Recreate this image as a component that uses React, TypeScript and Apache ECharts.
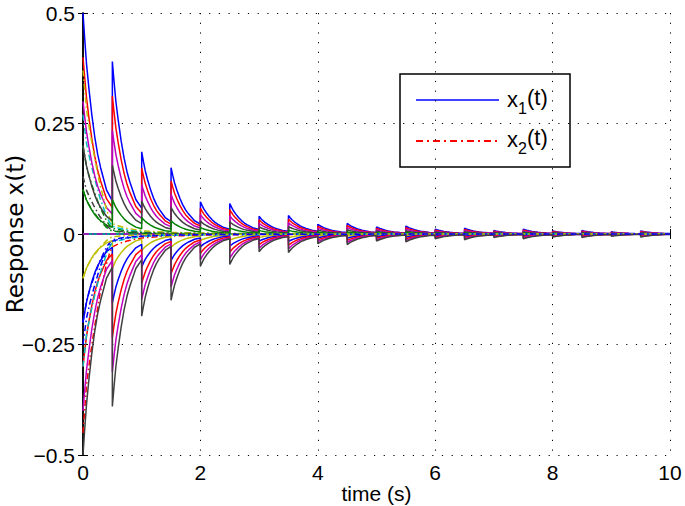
import React, { useEffect, useRef } from "react";
import * as echarts from "echarts";

// impulse instants (s)
const impulseTimes = [0, 0.5, 1, 1.5, 2, 2.5, 3, 3.5, 4, 4.5, 5, 5.5, 6, 6.5, 7, 7.5, 8, 8.5, 9, 9.5];
// x1 initial values and colours
const x1Initial = [0.5, 0.4, 0.3, 0.2, 0.1, 0, -0.1, -0.2, -0.3, -0.4, -0.5];
const x1Colors = ["#0000ff", "#ff0000", "#bf00bf", "#404040", "#008000", "#00bfbf", "#bfbf00", "#0000ff", "#ff0000", "#bf00bf", "#404040"];
// peak value after each impulse, relative to initial value (read from x1 = 0.5 curve)
const x1PeakGain = [1, 0.78, 0.372, 0.3, 0.146, 0.138, 0.08, 0.084, 0.044, 0.048, 0.032, 0.036, 0.022, 0.026, 0.016, 0.022, 0.014, 0.016, 0.01, 0.014];
// shape of the decay inside one impulse interval (fraction of the peak)
const decayOffsets = [0, 0.03, 0.06, 0.1, 0.15, 0.2, 0.25, 0.3, 0.4, 0.5];
const decayShape = [1, 0.88, 0.77, 0.66, 0.54, 0.44, 0.36, 0.3, 0.2, 0.15];

// x2 initial values and colours
const x2Initial = [0.2, 0.27, 0.37, -0.2, -0.45, 0, 0.13, 0.1, -0.3, -0.1, -0.25];
const x2Colors = ["#008000", "#00bfbf", "#bfbf00", "#0000ff", "#ff0000", "#bf00bf", "#404040", "#008000", "#00bfbf", "#bfbf00", "#0000ff"];
// normalised x2 response
const x2ProfileT = [0, 0.06, 0.12, 0.18, 0.24, 0.29, 0.35, 0.4, 0.45, 0.5, 0.6, 0.75, 1, 1.25, 1.5, 2, 2.5, 3, 4, 5, 6, 8, 10];
const x2ProfileV = [1, 0.76, 0.62, 0.5, 0.39, 0.3, 0.22, 0.15, 0.1, 0.065, 0.05, 0.035, 0.02, 0.014, 0.01, 0.006, 0.004, 0.003, 0.002, 0.001, 0.0008, 0.0003, 0];

const yTicks = [-0.5, -0.25, 0, 0.25, 0.5];
const xTicks = [0, 2, 4, 6, 8, 10];

const FONT = "Liberation Sans, Arial, Helvetica, sans-serif";

function buildX1(c: number) {
  const pts: number[][] = [];
  impulseTimes.forEach((tk, k) => {
    decayOffsets.forEach((o, j) => {
      pts.push([tk + o, c * x1PeakGain[k] * decayShape[j]]);
    });
  });
  return pts;
}

function buildX2(c: number) {
  return x2ProfileT.map((t, i) => [t, c * x2ProfileV[i]]);
}

export default function App() {
  const ref = useRef<HTMLDivElement>(null);
  useEffect(() => {
    document.body.style.margin = "0";
    const chart = echarts.init(ref.current!, null, { renderer: "svg" });
    const series: any[] = [];
    x1Initial.forEach((c, i) => {
      series.push({
        type: "line",
        data: buildX1(c),
        showSymbol: false,
        silent: true,
        lineStyle: { color: x1Colors[i], width: 1.5 },
        z: 3,
      });
      series.push({
        type: "line",
        data: buildX2(x2Initial[i]),
        showSymbol: false,
        silent: true,
        lineStyle: { color: x2Colors[i], width: 1.5, type: [6, 3, 1.5, 3] },
        z: 3,
      });
    });
    const lab = (v: number) => (v < 0 ? "\u2212" + String(Math.abs(v)) : String(v));
    chart.setOption({
      animation: false,
      backgroundColor: "#ffffff",
      grid: { left: 83, right: 15, top: 13, bottom: 51, show: false, containLabel: false, outerBoundsMode: "none" },
      xAxis: [
        {
          type: "value",
          min: xTicks[0],
          max: xTicks[xTicks.length - 1],
          interval: 2,
          position: "bottom",
          name: "time (s)",
          nameLocation: "middle",
          nameGap: 28,
          nameMoveOverlap: false,
          nameTextStyle: { fontSize: 21, color: "#000", fontFamily: FONT },
          axisLine: { lineStyle: { color: "#000", width: 1.5 } },
          axisTick: { inside: true, length: 5, lineStyle: { color: "#000" } },
          axisLabel: { fontSize: 21, color: "#000", fontFamily: FONT, margin: 7 },
          splitLine: { show: true, lineStyle: { color: "#000", type: [1.2, 8.5], width: 1 } },
        },
        {
          type: "value",
          min: xTicks[0],
          max: xTicks[xTicks.length - 1],
          interval: 2,
          position: "top",
          axisLine: { lineStyle: { color: "#000", width: 1.5 } },
          axisTick: { inside: true, length: 5, lineStyle: { color: "#000" } },
          axisLabel: { show: false },
          splitLine: { show: false },
        },
      ],
      yAxis: [
        {
          type: "value",
          min: yTicks[0],
          max: yTicks[yTicks.length - 1],
          interval: 0.25,
          position: "left",
          name: "Response x(t)",
          nameLocation: "middle",
          nameGap: 57,
          nameMoveOverlap: false,
          nameTextStyle: { fontSize: 23, color: "#000", fontFamily: "DejaVu Sans, sans-serif" },
          axisLine: { show: true, lineStyle: { color: "#000", width: 1.5 } },
          axisTick: { show: true, inside: true, length: 5, lineStyle: { color: "#000" } },
          axisLabel: { fontSize: 21, color: "#000", fontFamily: FONT, margin: 8, formatter: lab },
          splitLine: { show: true, lineStyle: { color: "#000", type: [1.2, 8.5], width: 1 } },
        },
        {
          type: "value",
          min: yTicks[0],
          max: yTicks[yTicks.length - 1],
          interval: 0.25,
          position: "right",
          axisLine: { show: true, lineStyle: { color: "#000", width: 1.5 } },
          axisTick: { show: true, inside: true, length: 5, lineStyle: { color: "#000" } },
          axisLabel: { show: false },
          splitLine: { show: false },
        },
      ],
      series,
      graphic: [
        {
          type: "group",
          z: 100,
          children: [
            { type: "rect", shape: { x: 400, y: 74, width: 170, height: 93 }, style: { fill: "#fff", stroke: "#000", lineWidth: 1.5 } },
            { type: "line", shape: { x1: 416, y1: 100, x2: 499, y2: 100 }, style: { stroke: "#0000ff", lineWidth: 1.5 } },
            { type: "line", shape: { x1: 416, y1: 141, x2: 499, y2: 141 }, style: { stroke: "#ff0000", lineWidth: 2, lineDash: [7, 4, 2, 4] } },
            { type: "text", x: 507, y: 99, style: { text: "x", fontSize: 22, fontFamily: FONT, fill: "#000", verticalAlign: "middle" } },
            { type: "text", x: 518, y: 108, style: { text: "1", fontSize: 16, fontFamily: FONT, fill: "#000", verticalAlign: "middle" } },
            { type: "text", x: 527, y: 97, style: { text: "(t)", fontSize: 22, fontFamily: FONT, fill: "#000", verticalAlign: "middle" } },
            { type: "text", x: 507, y: 139, style: { text: "x", fontSize: 22, fontFamily: FONT, fill: "#000", verticalAlign: "middle" } },
            { type: "text", x: 518, y: 148, style: { text: "2", fontSize: 16, fontFamily: FONT, fill: "#000", verticalAlign: "middle" } },
            { type: "text", x: 527, y: 137, style: { text: "(t)", fontSize: 22, fontFamily: FONT, fill: "#000", verticalAlign: "middle" } },
          ],
        },
      ],
    });
    return () => chart.dispose();
  }, []);
  return <div ref={ref} style={{ width: 685, height: 506 }} />;
}
